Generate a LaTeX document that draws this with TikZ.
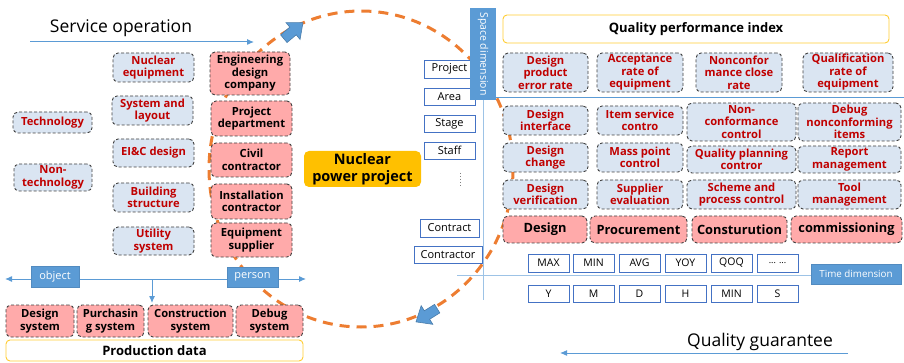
\documentclass[tikz,border=0pt]{standalone}
\usepackage{fontspec}
\setmainfont{Open Sans}
\usetikzlibrary{arrows.meta}
\definecolor{lblue}{HTML}{DAE5F2}
\definecolor{lpink}{HTML}{FFAAAA}
\definecolor{dred}{HTML}{C00000}
\definecolor{mblue}{HTML}{5B9BD5}
\definecolor{bblue}{HTML}{4472C4}
\definecolor{orng}{HTML}{ED7D31}
\definecolor{gold}{HTML}{FFC000}
\definecolor{axisblue}{HTML}{9DC3E6}
\definecolor{ylw}{HTML}{FFD966}
\definecolor{dgray}{HTML}{404040}
\newcommand\mybox[7]{%
 \pgfmathsetmacro\bxw{#5-#3}\pgfmathsetmacro\bxh{#6-#4}%
 \pgfmathsetmacro\bxcx{(#3+#5)/2}\pgfmathsetmacro\bxcy{(#4+#6)/2}%
 \node[#1,minimum width=\bxw pt,minimum height=\bxh pt] (#2) at (\bxcx,\bxcy) {#7};}
\tikzset{
 basebox/.style={rounded corners=5pt, draw=dgray, dash pattern=on 3pt off 2pt, line width=0.9pt, inner sep=0pt, align=center},
 bluebox/.style={basebox, fill=lblue, text=dred, font=\fontsize{11.2}{12.5}\selectfont\bfseries},
 pinkbox/.style={basebox, fill=lpink, text=black, font=\fontsize{11.2}{12.5}\selectfont\bfseries},
 bigpink/.style={basebox, fill=lpink, text=black, font=\fontsize{12.8}{14}\selectfont\bfseries},
 wlabel/.style={draw=bblue, line width=0.8pt, fill=white, inner sep=0pt, font=\fontsize{11}{13}\selectfont},
 tlabel/.style={draw=bblue, line width=0.8pt, fill=white, inner sep=0pt, font=\fontsize{10.5}{12}\selectfont},
 bluelabel/.style={fill=mblue, draw=mblue!90!black, line width=0.4pt, text=white, inner sep=0pt, font=\fontsize{11}{13}\selectfont},
 ybox/.style={draw=gold!80, rounded corners=4pt, line width=0.9pt, fill=white, inner sep=0pt, font=\fontsize{13}{15}\selectfont\bfseries},
 bluearrowline/.style={mblue, line width=1pt, -{Latex[length=7pt,width=6pt]}},
 blockarrow/.style={fill=mblue, draw=mblue!80!black, line width=0.6pt}
}
\begin{document}
\begin{tikzpicture}[x=1pt,y=-1pt]
\useasboundingbox (0,0) rectangle (904,363);
% background cycle
\draw[orng, line width=3pt, dash pattern=on 10pt off 7pt] (361,169) ellipse [x radius=152, y radius=158];
% Service operation
\node[anchor=base, font=\fontsize{17.5}{20}\selectfont] (servop) at (121,33) {Service operation};
\coordinate (so1) at (30,42); \coordinate (so2) at (254,42);
\draw[bluearrowline] (so1) -- (so2);
% left blue boxes
\mybox{bluebox}{nuc}{113}{53}{194}{82}{Nuclear\\equipment}
\mybox{bluebox}{sys}{112}{96}{193}{125}{System and\\layout}
\mybox{bluebox}{tech}{13}{112}{92}{133}{Technology}
\mybox{bluebox}{eic}{113}{139}{194}{167}{EI\&C design}
\mybox{bluebox}{nontech}{14}{164}{92}{191}{Non-\\technology}
\mybox{bluebox}{build}{113}{183}{194}{212}{Building\\structure}
\mybox{bluebox}{util}{113}{227}{194}{255}{Utility\\system}
% left pink boxes
\mybox{pinkbox}{eng}{210}{52}{290}{95}{Engineering\\design\\company}
\mybox{pinkbox}{projd}{211}{101}{292}{136}{Project\\department}
\mybox{pinkbox}{civil}{211}{143}{292}{177}{Civil\\contractor}
\mybox{pinkbox}{inst}{211}{184}{292}{219}{Installation\\contractor}
\mybox{pinkbox}{equip}{211}{223}{292}{257}{Equipment\\supplier}
% object / person axis
\coordinate (oL) at (5,279); \coordinate (oR) at (306,279);
\draw[mblue, line width=1pt, {Latex[length=7pt,width=6pt]}-{Latex[length=7pt,width=6pt]}] (oL) -- (oR);
\mybox{bluelabel}{obj}{31}{266}{79}{287}{object}
\mybox{bluelabel}{pers}{227}{267}{278}{287}{person}
\coordinate (dTop) at (152,279); \coordinate (dBot) at (152,303);
\draw[bluearrowline] (dTop) -- (dBot);
% production systems
\mybox{pinkbox}{dsys}{6}{305}{74}{337}{Design\\system}
\mybox{pinkbox}{psys}{77}{305}{144}{337}{Purchasin\\g system}
\mybox{pinkbox}{csys}{148}{305}{233}{337}{Construction\\system}
\mybox{pinkbox}{dbsys}{236}{305}{303}{337}{Debug\\system}
\mybox{ybox}{prod}{6}{340}{303}{361}{Production data}
% center
\node[fill=gold, rounded corners=5pt, minimum width=117pt, minimum height=36pt, inner sep=0pt, align=center, font=\fontsize{14.5}{16.5}\selectfont\bfseries] (npp) at (362.5,169) {Nuclear\\power project};
% cycle arrows
\begin{scope}[shift={(293,31)}, rotate=40]
\path[blockarrow] (-12,-5) -- (0,-5) -- (0,-11) -- (13,0) -- (0,11) -- (0,5) -- (-12,5) -- cycle;
\end{scope}
\begin{scope}[shift={(427,315)}, rotate=212]
\path[blockarrow] (-12,-5) -- (0,-5) -- (0,-11) -- (13,0) -- (0,11) -- (0,5) -- (-12,5) -- cycle;
\end{scope}
% space dimension labels
\mybox{wlabel}{lproj}{424}{60}{475}{78}{Project}
\mybox{wlabel}{larea}{424}{88}{475}{105}{Area}
\mybox{wlabel}{lstage}{424}{115}{475}{132}{Stage}
\mybox{wlabel}{lstaff}{424}{142}{475}{159}{Staff}
\draw[gray, line width=1pt, dotted] (460,173) -- (460,188);
\mybox{wlabel}{lcontract}{420}{219}{479}{237}{Contract}
\mybox{wlabel}{lcontractor}{414}{246}{482}{263}{Contractor}
\node[fill=mblue, minimum width=26pt, minimum height=92pt, inner sep=0pt, text=white, font=\fontsize{10.5}{12}\selectfont] (spacedim) at (483,54) {\rotatebox{-90}{Space dimension}};
\coordinate (vEnd) at (483,300);
\draw[axisblue, line width=1pt] (spacedim.south) -- (vEnd);
\coordinate (h1) at (496,97); \coordinate (h2) at (904,97);
\draw[mblue, line width=0.8pt] (h1) -- (h2);
% time dimension
\mybox{bluelabel}{timedim}{811}{264}{901}{284}{\fontsize{9.8}{11}\selectfont Time dimension}
\coordinate (tStart) at (457,275);
\draw[axisblue, line width=1pt] (tStart) -- (tStart -| timedim.west);
% quality performance index
\mybox{ybox}{qpi}{503}{15}{889}{43}{Quality performance index}
\mybox{bluebox}{r1a}{503}{53}{588}{92}{Design\\product\\error rate}
\mybox{bluebox}{r1b}{597}{53}{683}{92}{Acceptance\\rate of\\equipment}
\mybox{bluebox}{r1c}{696}{53}{782}{92}{Nonconfor\\mance close\\rate}
\mybox{bluebox}{r1d}{803}{53}{893}{92}{Qualification\\rate of\\equipment}
\mybox{bluebox}{r2a}{503}{106}{588}{135}{Design\\interface}
\mybox{bluebox}{r2b}{597}{106}{683}{135}{Item service\\contro}
\mybox{bluebox}{r2c}{687}{103}{796}{141}{Non-\\conformance\\control}
\mybox{bluebox}{r2d}{798}{103}{901}{141}{Debug\\nonconforming\\items}
\mybox{bluebox}{r3a}{503}{143}{588}{172}{Design\\change}
\mybox{bluebox}{r3b}{597}{143}{683}{172}{Mass point\\control}
\mybox{bluebox}{r3c}{687}{146}{796}{173}{Quality planning\\contror}
\mybox{bluebox}{r3d}{798}{146}{901}{173}{Report\\management}
\mybox{bluebox}{r4a}{503}{180}{588}{209}{Design\\verification}
\mybox{bluebox}{r4b}{597}{180}{683}{209}{Supplier\\evaluation}
\mybox{bluebox}{r4c}{687}{180}{796}{209}{Scheme and\\process control}
\mybox{bluebox}{r4d}{798}{180}{901}{209}{Tool\\management}
\mybox{bigpink}{r5a}{503}{216}{587}{243}{Design}
\mybox{bigpink}{r5b}{590}{216}{687}{243}{Procurement}
\mybox{bigpink}{r5c}{692}{216}{787}{243}{Consturution}
\mybox{bigpink}{r5d}{791}{216}{902}{243}{commissioning}
% time boxes
\mybox{tlabel}{t1}{528}{254}{569}{272}{MAX}
\mybox{tlabel}{t2}{573}{254}{614}{272}{MIN}
\mybox{tlabel}{t3}{619}{254}{660}{272}{AVG}
\mybox{tlabel}{t4}{665}{254}{706}{272}{YOY}
\mybox{tlabel}{t5}{711}{254}{752}{272}{QOQ}
\mybox{tlabel}{t6}{757}{254}{798}{272}{\fontsize{9}{10}\selectfont ... ...}
\mybox{tlabel}{u1}{528}{285}{569}{302}{Y}
\mybox{tlabel}{u2}{573}{285}{614}{302}{M}
\mybox{tlabel}{u3}{619}{285}{660}{302}{D}
\mybox{tlabel}{u4}{665}{285}{706}{302}{H}
\mybox{tlabel}{u5}{711}{285}{752}{302}{MIN}
\mybox{tlabel}{u6}{757}{285}{798}{302}{S}
% quality guarantee
\node[anchor=base, font=\fontsize{17.5}{20}\selectfont] (qg) at (760,346) {Quality guarantee};
\coordinate (qg1) at (848,353); \coordinate (qg2) at (560,353);
\draw[bluearrowline] (qg1) -- (qg2);
\end{tikzpicture}
\end{document}
